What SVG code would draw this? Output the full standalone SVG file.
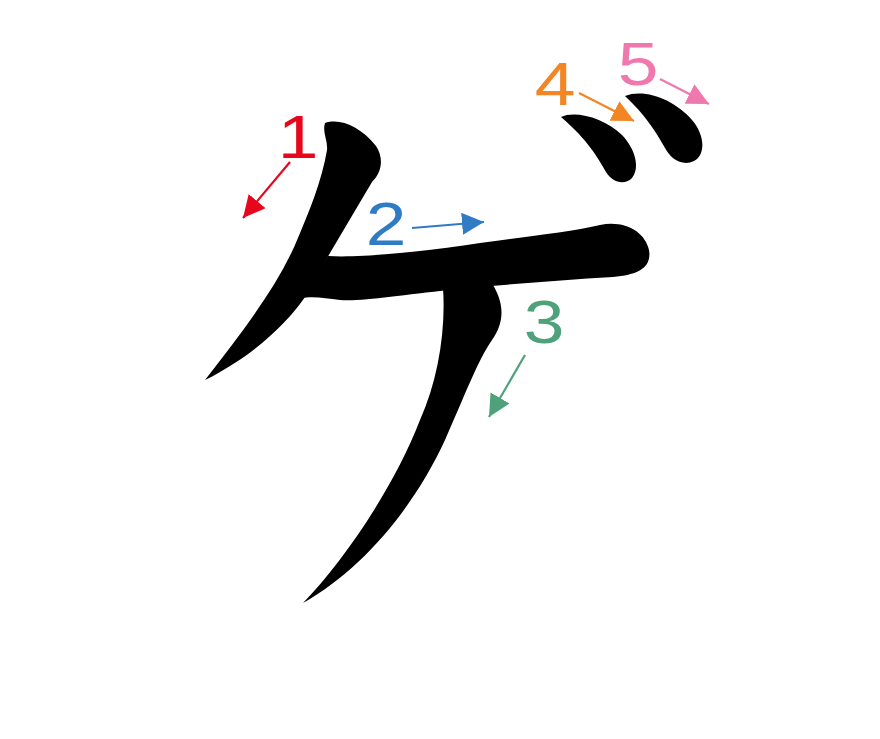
<svg xmlns="http://www.w3.org/2000/svg" width="880" height="739" viewBox="0 0 880 739">
<defs>
<style>
.s{fill:#000;stroke:none}
.n{font-family:"Liberation Sans",Arial,sans-serif;font-size:62px;text-anchor:middle}
.a{fill:none;stroke-width:2.2}
</style>
<marker id="mr" markerUnits="userSpaceOnUse" markerWidth="22" markerHeight="22" refX="20" refY="10" orient="auto" viewBox="0 0 20 20"><path d="M0,0 L20,10 L0,20 Z" fill="#e8061c"/></marker>
<marker id="mb" markerUnits="userSpaceOnUse" markerWidth="22" markerHeight="22" refX="20" refY="10" orient="auto" viewBox="0 0 20 20"><path d="M0,0 L20,10 L0,20 Z" fill="#2f7cc4"/></marker>
<marker id="mg" markerUnits="userSpaceOnUse" markerWidth="22" markerHeight="22" refX="20" refY="10" orient="auto" viewBox="0 0 20 20"><path d="M0,0 L20,10 L0,20 Z" fill="#4ea27b"/></marker>
<marker id="mo" markerUnits="userSpaceOnUse" markerWidth="22" markerHeight="22" refX="20" refY="10" orient="auto" viewBox="0 0 20 20"><path d="M0,0 L20,10 L0,20 Z" fill="#f28524"/></marker>
<marker id="mp" markerUnits="userSpaceOnUse" markerWidth="22" markerHeight="22" refX="20" refY="10" orient="auto" viewBox="0 0 20 20"><path d="M0,0 L20,10 L0,20 Z" fill="#ef78ae"/></marker>
</defs>
<rect width="880" height="739" fill="#fff"/>
<g id="glyph">
<path class="s" d="M325,123 C340,118 360,126 376,146 C384,158 382,172 372,182 L330,253 L305,297 C288,322 255,355 205,380 C240,335 275,290 295,245 C310,210 322,180 327,150 C328,140 322,132 325,123 Z"/>
<path class="s" d="M328,256 C360,258 420,252 480,243 C530,236 570,232 600,225 C625,220 645,232 649,250 C652,268 638,275 613,277 C560,280 500,285 450,290 C400,295 360,302 340,300 C325,298 315,296 300,298 L318,272 Z"/>
<path class="s" d="M443,288 C446,330 438,380 420,420 C395,485 345,560 303,603 C365,568 415,505 445,440 C465,395 478,360 492,340 C506,320 503,302 493,285 Z"/>
<path class="s" d="M561,117 C575,110 605,118 622,135 C636,150 640,168 632,178 C624,186 612,182 606,172 C598,158 588,140 561,117 Z"/>
<path class="s" d="M625,96 C645,88 675,100 692,120 C705,135 706,155 694,161 C682,167 670,158 665,148 C655,130 645,115 625,96 Z"/>
</g>
<g id="connectors">
<line class="a" stroke="#e8061c" x1="290" y1="162" x2="243" y2="218" marker-end="url(#mr)"/>
<line class="a" stroke="#2f7cc4" x1="412" y1="228" x2="484" y2="222" marker-end="url(#mb)"/>
<line class="a" stroke="#4ea27b" x1="525" y1="355" x2="489" y2="417" marker-end="url(#mg)"/>
<line class="a" stroke="#f28524" x1="579" y1="93" x2="634" y2="121" marker-end="url(#mo)"/>
<line class="a" stroke="#ef78ae" x1="660" y1="79" x2="709" y2="104" marker-end="url(#mp)"/>
</g>
<g id="labels">
<text class="n" transform="translate(298,158) scale(1.18,1)" fill="#e8061c">1</text>
<text class="n" transform="translate(386,245) scale(1.18,1)" fill="#2f7cc4">2</text>
<text class="n" transform="translate(544,343) scale(1.18,1)" fill="#4ea27b">3</text>
<text class="n" transform="translate(555,105) scale(1.18,1)" fill="#f28524">4</text>
<text class="n" transform="translate(638,85) scale(1.18,1)" fill="#ef78ae">5</text>
</g>
</svg>
